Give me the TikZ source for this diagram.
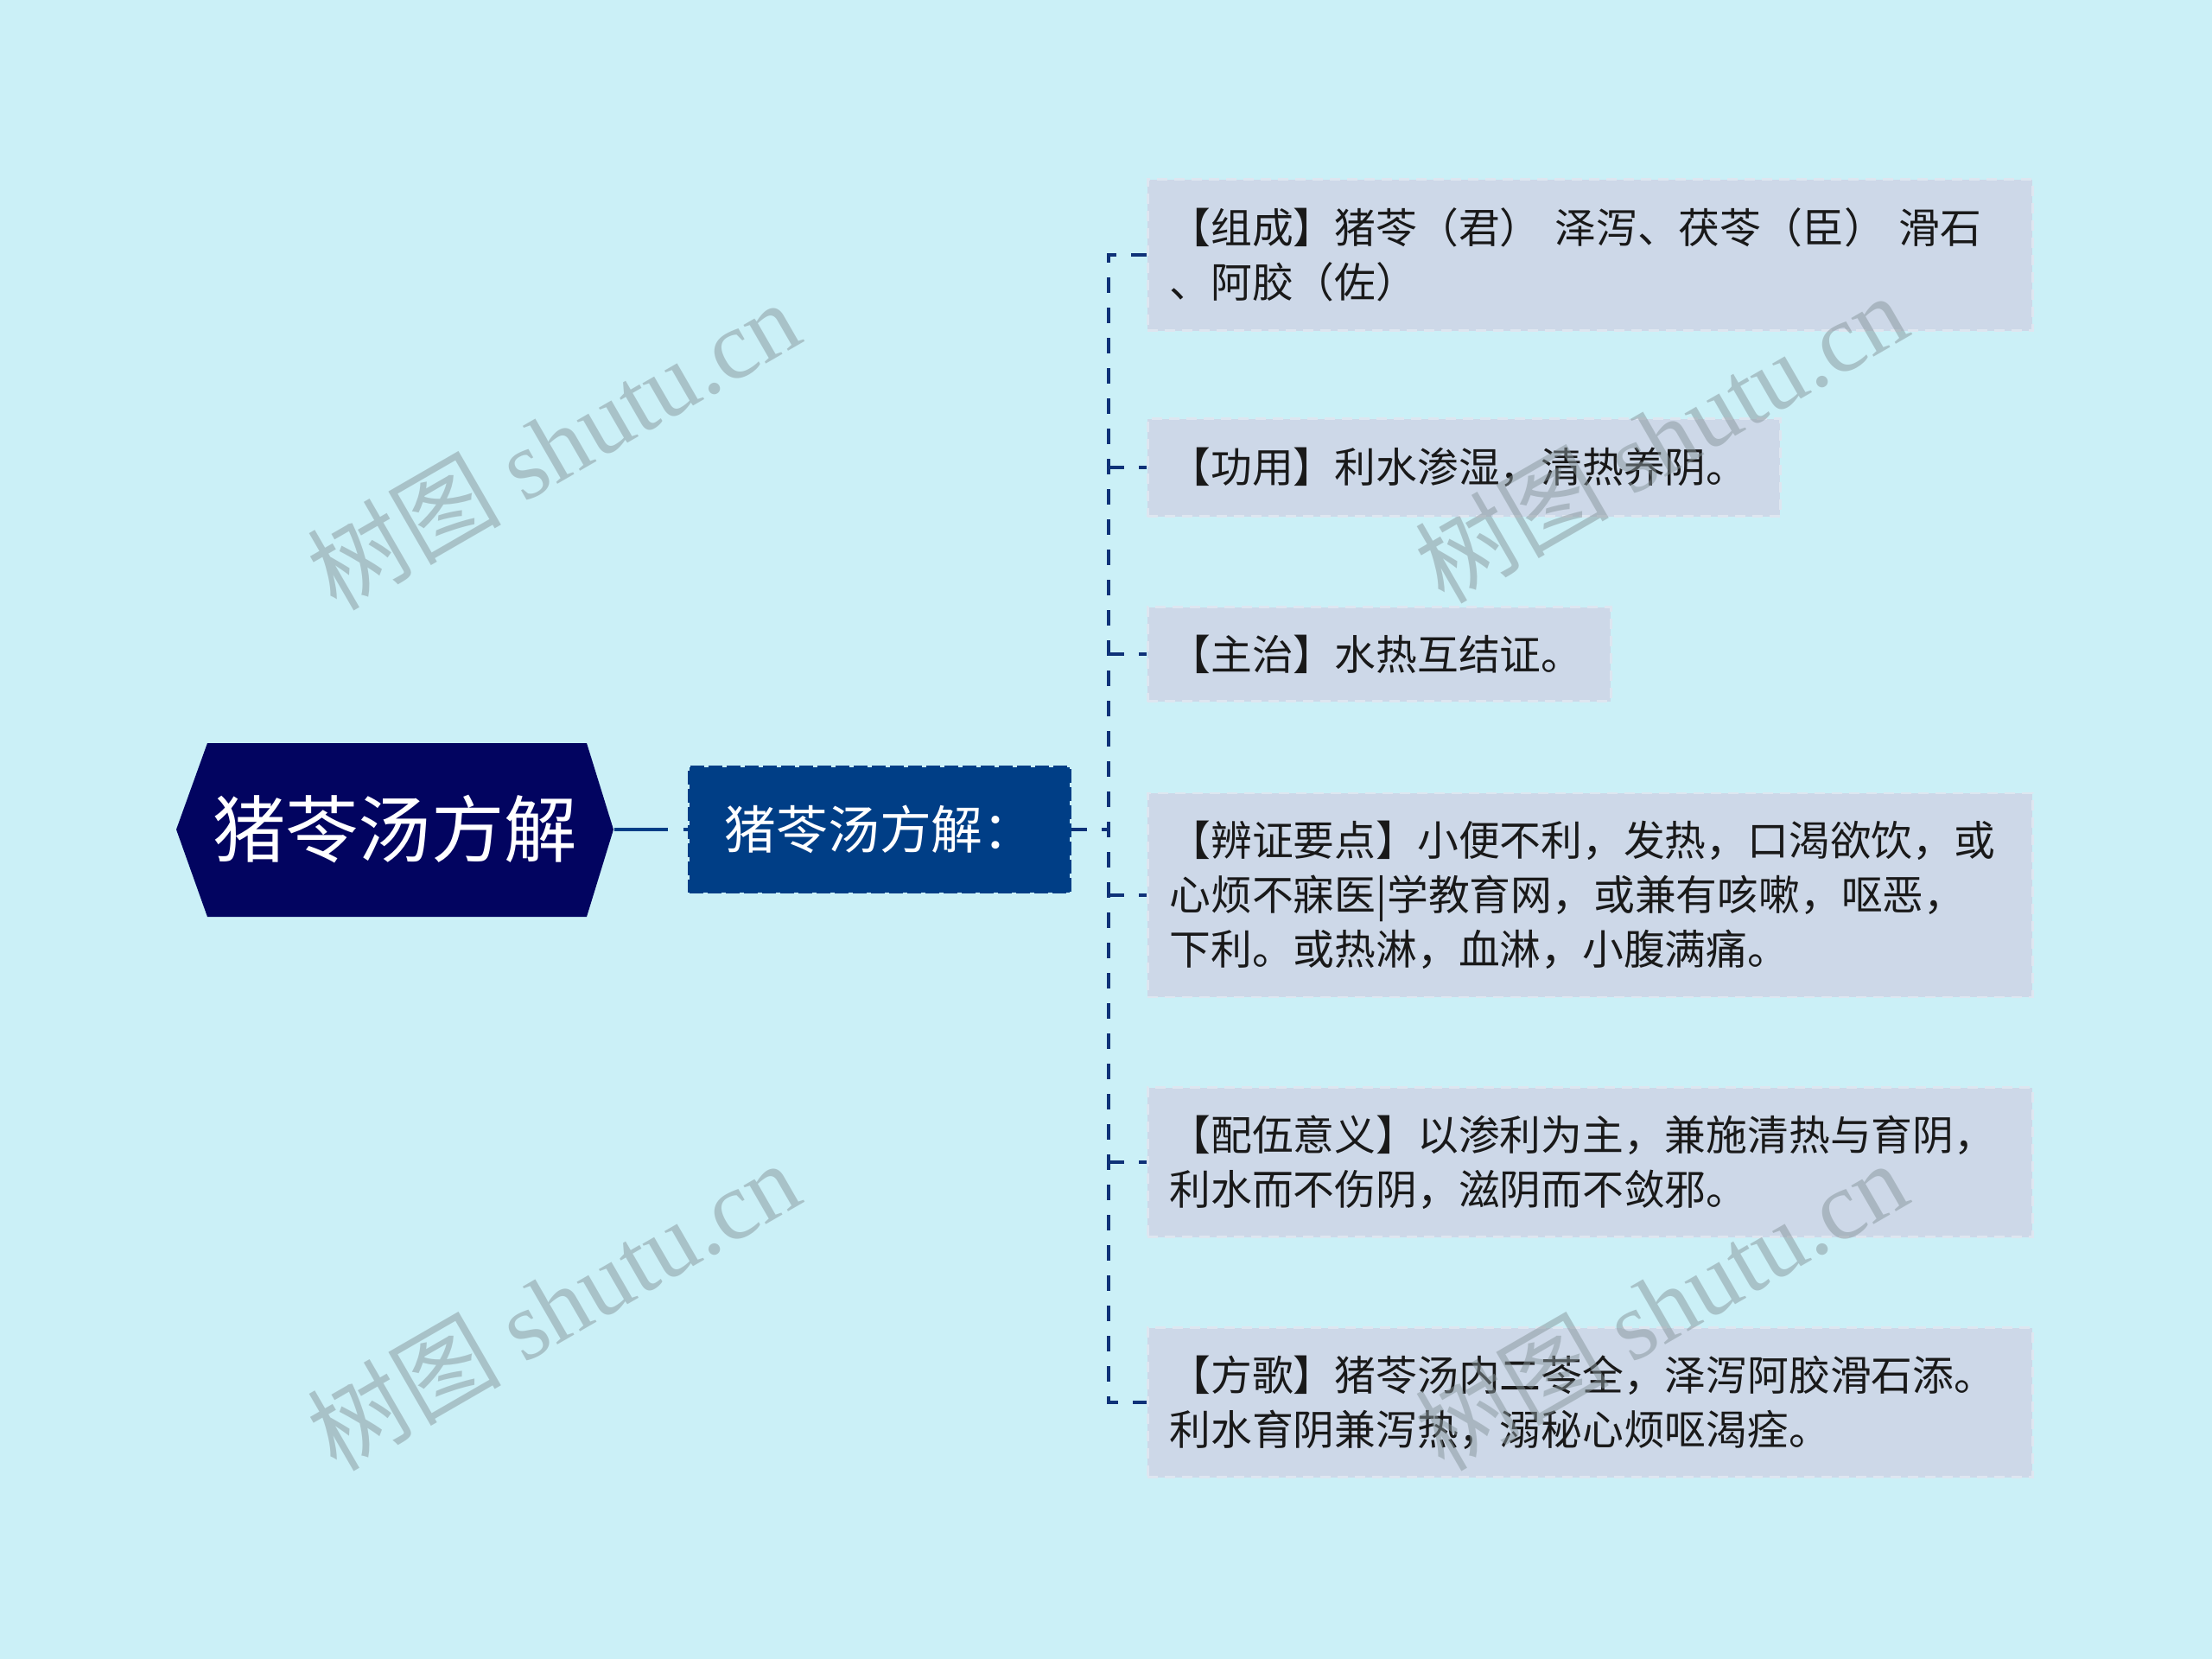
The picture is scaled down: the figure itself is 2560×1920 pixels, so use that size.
\documentclass[tikz,border=0pt]{standalone}
\usepackage{fontspec}
\setmainfont{Noto Sans CJK SC}
\newfontfamily\wmlatin{Liberation Serif}
\usetikzlibrary{calc}
\definecolor{bgc}{RGB}{203,240,247}
\definecolor{rootfill}{RGB}{2,4,96}
\definecolor{midfill}{RGB}{0,62,134}
\definecolor{leaffill}{RGB}{205,216,232}
\definecolor{leafborder}{RGB}{222,230,240}
\definecolor{leaftext}{RGB}{25,25,25}
\definecolor{connc}{RGB}{15,50,120}
\definecolor{wmc}{RGB}{135,150,155}
\tikzset{
  conn/.style={draw=connc, line width=1.1pt, dash pattern=on 1.8mm off 1.7mm},
  rootnode/.style={text=white, font=\fontsize{24pt}{28pt}\selectfont, minimum width=50.6mm, minimum height=20.1mm, inner sep=0pt},
  midnode/.style={fill=midfill, draw=midfill, line width=1.1pt, dash pattern=on 1.6mm off 0.5mm, text=white, font=\fontsize{17pt}{20pt}\selectfont, minimum width=44mm, minimum height=14.5mm, inner sep=0pt},
  leafbox/.style={fill=leaffill, draw=leafborder, line width=0.8pt, dash pattern=on 1.2mm off 0.8mm, anchor=west, align=left, inner xsep=2.5mm, inner ysep=0pt, text=leaftext, font=\fontsize{13.6pt}{17.9pt}\selectfont},
  wm/.style={text=wmc, opacity=0.5, font=\fontsize{32pt}{34pt}\selectfont, rotate=30, inner sep=0pt}
}
\begin{document}
\begin{tikzpicture}[x=0.1mm,y=-0.1mm]
\fill[bgc] (0,0) rectangle (2560,1920);
\useasboundingbox (0,0) rectangle (2560,1920);
% root hexagon
\fill[rootfill] (204,960) -- (240,860) -- (679,860) -- (710,960) -- (679,1061) -- (240,1061) -- cycle;
\node[rootnode] (root) at (457,960) {猪苓汤方解};
\node[midnode] (mid) at (1018,960) {猪苓汤方解：};
% leaves
\node[leafbox, text width=97.4mm, minimum height=17.5mm] (l1) at (1327,295) {【组成】猪苓（君） 泽泻、茯苓（臣） 滑石\\、阿胶（佐）};
\node[leafbox, text width=68.2mm, minimum height=11.3mm] (l2) at (1327,541) {【功用】利水渗湿，清热养阴。};
\node[leafbox, text width=48.6mm, minimum height=10.9mm] (l3) at (1327,757) {【主治】水热互结证。};
\node[leafbox, text width=97.4mm, minimum height=23.6mm] (l4) at (1327,1036) {【辨证要点】小便不利，发热，口渴欲饮，或\\心烦不寐医|学教育网，或兼有咳嗽，呕恶，\\下利。或热淋，血淋，小腹满痛。};
\node[leafbox, text width=97.4mm, minimum height=17.3mm] (l5) at (1327,1345) {【配伍意义】以渗利为主，兼施清热与育阴，\\利水而不伤阴，滋阴而不敛邪。};
\node[leafbox, text width=97.4mm, minimum height=17.3mm] (l6) at (1327,1623) {【方歌】猪苓汤内二苓全，泽泻阿胶滑石添。\\利水育阴兼泻热，溺秘心烦呕渴痊。};
% connectors
\draw[draw=midfill, line width=1.1pt, dash pattern=on 6.2mm off 1.8mm on 2mm off 5mm] (root.east) -- (mid.west);
\coordinate (tr) at (1283,960);
\draw[conn] (mid.east) -- (tr);
\draw[conn] (l1.west) -- (tr |- l1.west) -- (tr |- l6.west) -- (l6.west);
\draw[conn] (tr |- l2.west) -- (l2.west);
\draw[conn] (tr |- l3.west) -- (l3.west);
\draw[conn] (tr |- l4.west) -- (l4.west);
\draw[conn] (tr |- l5.west) -- (l5.west);
% watermarks
\node[wm] (wm1) at (640,514) {树图 {\wmlatin shutu.cn}};
\node[wm] (wm2) at (640,1510) {树图 {\wmlatin shutu.cn}};
\node[wm] (wm3) at (1922,506) {树图 {\wmlatin shutu.cn}};
\node[wm] (wm4) at (1922,1510) {树图 {\wmlatin shutu.cn}};
\end{tikzpicture}
\end{document}
